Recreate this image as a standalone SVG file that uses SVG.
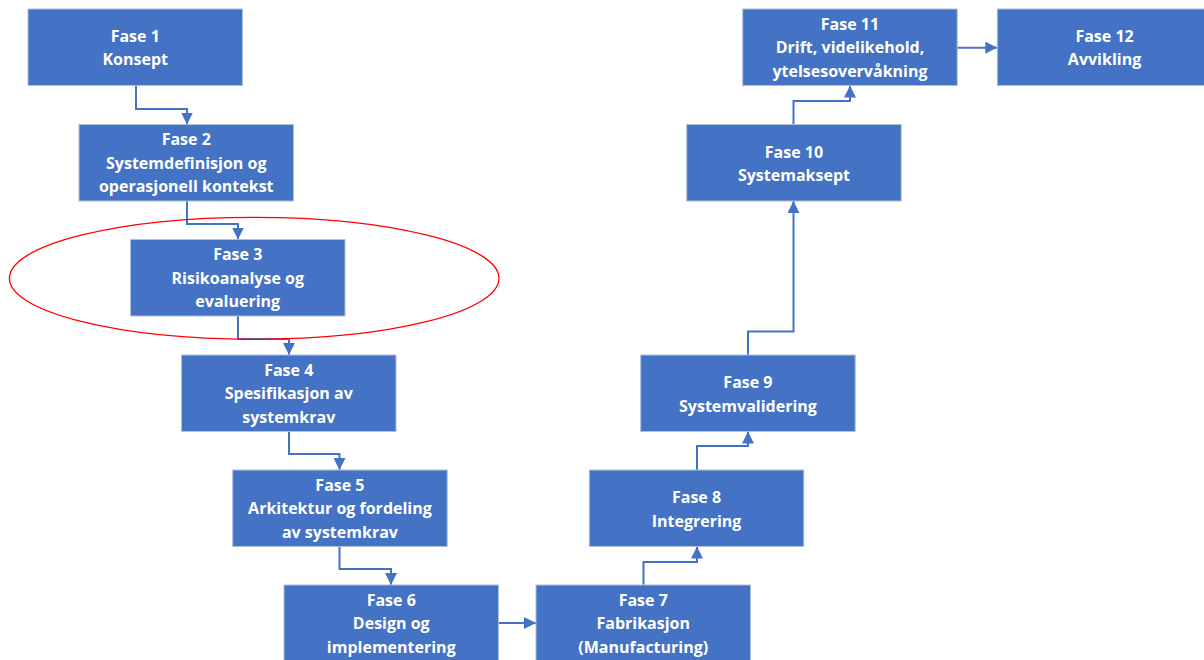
<svg xmlns="http://www.w3.org/2000/svg" width="1204" height="660" viewBox="0 0 1204 660">
  <style>
    .box { fill: #4472C4; stroke: #B0BFDC; stroke-width: 1; }
    .lbl { fill: #FFFFFF; font-family: "Open Sans", "Liberation Sans", sans-serif; font-weight: 700; font-size: 16px; text-anchor: middle; }
    .conn { fill: none; stroke: #4472C4; stroke-width: 2; marker-end: url(#arrow); }
    .mark { fill: none; stroke: #FF0000; stroke-width: 1.3; }
  </style>
  <defs>
    <marker id="arrow" viewBox="0 0 12 12" markerWidth="12" markerHeight="12" refX="12" refY="6" orient="auto" markerUnits="userSpaceOnUse">
      <path d="M0,0 L12,6 L0,12 Z" fill="#4472C4"/>
    </marker>
  </defs>
  <rect width="1204" height="660" fill="#FFFFFF"/>

  <!-- connectors between phases -->
  <g id="connectors">
    <path class="conn" d="M136,86 V109 H187 V124.5"/>
    <path class="conn" d="M187,201 V224 H238 V239.5"/>
    <path class="conn" d="M238,316 V339 H289 V355"/>
    <path class="conn" d="M289,431.5 V454 H339.5 V470"/>
    <path class="conn" d="M339.5,546.5 V569 H391 V585"/>
    <path class="conn" d="M498.5,623 H536"/>
    <path class="conn" d="M643.5,585 V562 H697 V546.5"/>
    <path class="conn" d="M697,470 V446 H748 V431.5"/>
    <path class="conn" d="M748,355 V331.5 H793.5 V201"/>
    <path class="conn" d="M793.5,124.5 V101 H850 V85.5"/>
    <path class="conn" d="M957,47.7 H997.3"/>
  </g>

  <g id="fase1">
    <rect class="box" x="28" y="9" width="214.5" height="76.5"/>
    <text class="lbl" x="135.25" y="41.7">Fase 1</text>
    <text class="lbl" x="135.25" y="65.2">Konsept</text>
  </g>
  <g id="fase2">
    <rect class="box" x="79" y="124.5" width="214.5" height="76.5"/>
    <text class="lbl" x="186.25" y="145">Fase 2</text>
    <text class="lbl" x="186.25" y="168.5">Systemdefinisjon og</text>
    <text class="lbl" x="186.25" y="192">operasjonell kontekst</text>
  </g>
  <g id="fase3">
    <rect class="box" x="130.5" y="239.5" width="214.5" height="76.5"/>
    <text class="lbl" x="237.75" y="260">Fase 3</text>
    <text class="lbl" x="237.75" y="283.5">Risikoanalyse og</text>
    <text class="lbl" x="237.75" y="307">evaluering</text>
  </g>
  <g id="fase4">
    <rect class="box" x="181.5" y="355" width="214.5" height="76.5"/>
    <text class="lbl" x="288.75" y="375.5">Fase 4</text>
    <text class="lbl" x="288.75" y="399">Spesifikasjon av</text>
    <text class="lbl" x="288.75" y="422.5">systemkrav</text>
  </g>
  <g id="fase5">
    <rect class="box" x="232.7" y="470" width="214.5" height="76.5"/>
    <text class="lbl" x="339.95" y="490.5">Fase 5</text>
    <text class="lbl" x="339.95" y="514">Arkitektur og fordeling</text>
    <text class="lbl" x="339.95" y="537.5">av systemkrav</text>
  </g>
  <g id="fase6">
    <rect class="box" x="284" y="585" width="214.5" height="76.5"/>
    <text class="lbl" x="391.25" y="605.5">Fase 6</text>
    <text class="lbl" x="391.25" y="629">Design og</text>
    <text class="lbl" x="391.25" y="652.5">implementering</text>
  </g>
  <g id="fase7">
    <rect class="box" x="536" y="585" width="214.5" height="76.5"/>
    <text class="lbl" x="643.25" y="605.5">Fase 7</text>
    <text class="lbl" x="643.25" y="629">Fabrikasjon</text>
    <text class="lbl" x="643.25" y="652.5">(Manufacturing)</text>
  </g>
  <g id="fase8">
    <rect class="box" x="589.3" y="470" width="214.5" height="76.5"/>
    <text class="lbl" x="696.55" y="503.3">Fase 8</text>
    <text class="lbl" x="696.55" y="526.8">Integrering</text>
  </g>
  <g id="fase9">
    <rect class="box" x="640.7" y="355" width="214.5" height="76.5"/>
    <text class="lbl" x="747.95" y="388.3">Fase 9</text>
    <text class="lbl" x="747.95" y="411.8">Systemvalidering</text>
  </g>
  <g id="fase10">
    <rect class="box" x="686.7" y="124.5" width="214.5" height="76.5"/>
    <text class="lbl" x="793.95" y="157.8">Fase 10</text>
    <text class="lbl" x="793.95" y="181.3">Systemaksept</text>
  </g>
  <g id="fase11">
    <rect class="box" x="742.7" y="9" width="214.5" height="76.5"/>
    <text class="lbl" x="849.95" y="29.5">Fase 11</text>
    <text class="lbl" x="849.95" y="53">Drift, videlikehold,</text>
    <text class="lbl" x="849.95" y="76.5">ytelsesovervåkning</text>
  </g>
  <g id="fase12">
    <rect class="box" x="997.3" y="9" width="214.5" height="76.5"/>
    <text class="lbl" x="1104.55" y="41.7">Fase 12</text>
    <text class="lbl" x="1104.55" y="65.2">Avvikling</text>
  </g>

  <!-- highlight ring around phase 3 -->
  <ellipse class="mark" cx="254.2" cy="278.3" rx="244.8" ry="61"/>
</svg>
